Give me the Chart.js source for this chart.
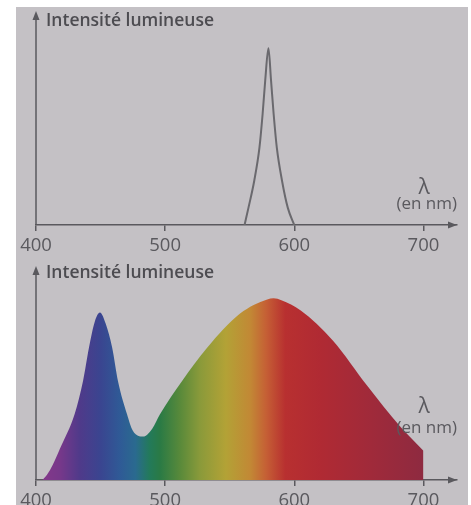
<!DOCTYPE html>
<html>
<head>
<meta charset="utf-8">
<script src="https://cdn.jsdelivr.net/npm/chart.js@4"></script>
<style>
  body { margin: 0; background: #fff; overflow: hidden; width: 471px; height: 505px; }
  #page { position: absolute; left: 16px; top: 7px; width: 452px; height: 498px; background: #c4c1c5; }
  canvas { position: absolute; left: 0; }
</style>
</head>
<body>
<div id="page"></div>
<canvas id="top_chart" width="471" height="264" style="top:0"></canvas>
<canvas id="bottom_chart" width="471" height="270" style="top:250px"></canvas>
<script>
// wavelength ticks (nm)
const xTicks = [400, 500, 600, 700];

// top: narrow emission line around 580 nm
const peakNm = [561.5, 564.5, 569, 573, 575.5, 577.5, 580, 582, 584, 586.5, 590.5, 595, 600];
const peakIntensity = [0, 8, 20.7, 36, 52, 67.6, 82.6, 67.6, 52, 36, 20.7, 8, 0];

// bottom: white LED-like spectrum
const spectrumNm = [405, 408.5, 413, 418.5, 430, 436.5, 441, 445.5, 449.5, 454, 459, 463.5, 470.5, 475, 483, 490, 496, 513, 532.5, 558, 579, 584, 590, 605, 630, 656.5, 682, 700];
const spectrumIntensity = [0, 2.4, 7.1, 14.6, 31, 46.5, 61.8, 74, 78.3, 73, 61.8, 46.2, 30.7, 23, 20.3, 24, 30.7, 46.2, 61.8, 77.8, 84.4, 84.9, 84, 79.2, 65.1, 44, 25, 13.7];

// colours of the fill along the wavelength axis
const colourNm = [405, 419, 434, 450, 465, 477, 488, 496, 512, 527, 547, 566, 578, 593, 620, 659, 700];
const colourHex = ['#84388a', '#76388a', '#4f3a8a', '#3a4590', '#2f5a96', '#2a6a8f', '#237a5a', '#2a7a45', '#5a8a3a', '#8a9a3a', '#b3a236', '#c28835', '#c56035', '#b83030', '#b02a33', '#a02a3a', '#8e2a40'];

const ink = '#5a595e';
const textInk = '#4d4c51';

const axesDeco = {
    id: 'axesDeco',
    afterDraw(chart, args, opts) {
        const ctx = chart.ctx;
        const a = chart.chartArea;
        ctx.save();
        ctx.strokeStyle = ink;
        ctx.fillStyle = ink;
        ctx.lineWidth = 1.5;
        // y axis with arrow
        ctx.beginPath();
        ctx.moveTo(a.left, a.bottom);
        ctx.lineTo(a.left, a.top + 6);
        ctx.stroke();
        ctx.beginPath();
        ctx.moveTo(a.left, a.top);
        ctx.lineTo(a.left - 3.5, a.top + 9);
        ctx.lineTo(a.left + 3.5, a.top + 9);
        ctx.closePath();
        ctx.fill();
        // arrow at end of x axis
        ctx.beginPath();
        ctx.moveTo(a.right, a.bottom);
        ctx.lineTo(a.right - 9, a.bottom - 3.5);
        ctx.lineTo(a.right - 9, a.bottom + 3.5);
        ctx.closePath();
        ctx.fill();
        // labels
        ctx.fillStyle = textInk;
        ctx.textBaseline = 'middle';
        ctx.textAlign = 'left';
        ctx.font = '600 17.5px "Open Sans"';
        ctx.fillText('Intensité lumineuse', a.left + 10, a.top + opts.titleDown);
        ctx.fillStyle = ink;
        ctx.textAlign = 'center';
        ctx.font = '21px "Open Sans"';
        ctx.fillText('λ', a.right - 33, a.bottom - opts.lambdaUp);
        ctx.textAlign = 'right';
        ctx.font = '17px "Open Sans"';
        ctx.fillText('(en nm)', a.right, a.bottom - opts.unitUp);
        ctx.restore();
    }
};

function make_options (padTop, padBottom, deco) {
    return {
        responsive: false,
        animation: false,
        layout: { padding: { left: 36, right: 14, top: padTop, bottom: padBottom } },
        plugins: {
            legend: { display: false },
            tooltip: { enabled: false },
            axesDeco: deco
        },
        scales: {
            x: {
                type: 'linear',
                min: 400,
                max: 726,
                afterBuildTicks: (scale) => { scale.ticks = xTicks.map(v => ({ value: v })); },
                ticks: { color: ink, font: { family: 'Open Sans', size: 18.5 }, padding: 4, maxRotation: 0 },
                grid: { display: true, drawOnChartArea: false, drawTicks: true, tickLength: 6, color: ink, lineWidth: 1.5 },
                border: { display: true, color: ink, width: 1.5 }
            },
            y: {
                display: false,
                min: 0,
                max: 100
            }
        }
    };
}

function spectrum_fill (context) {
    const chart = context.chart;
    if (!chart.chartArea) return 'transparent';
    const x = chart.scales.x;
    const x0 = x.getPixelForValue(400);
    const x1 = x.getPixelForValue(700);
    const g = chart.ctx.createLinearGradient(x0, 0, x1, 0);
    for (let i = 0; i < colourNm.length; i++) {
        g.addColorStop((colourNm[i] - 400) / 300, colourHex[i]);
    }
    return g;
}

const top_chart = new Chart(document.getElementById('top_chart'), {
    type: 'line',
    data: {
        datasets: [{
            data: peakNm.map((nm, i) => ({ x: nm, y: peakIntensity[i] })),
            borderColor: '#6a696e',
            borderWidth: 2,
            pointRadius: 0,
            cubicInterpolationMode: 'monotone',
            fill: false
        }]
    },
    options: make_options(11, 2.8, { titleDown: 10, lambdaUp: 37, unitUp: 21 }),
    plugins: [axesDeco]
});

const bottom_chart = new Chart(document.getElementById('bottom_chart'), {
    type: 'line',
    data: {
        datasets: [{
            data: spectrumNm.map((nm, i) => ({ x: nm, y: spectrumIntensity[i] })),
            borderColor: 'transparent',
            borderWidth: 0,
            backgroundColor: spectrum_fill,
            pointRadius: 0,
            cubicInterpolationMode: 'monotone',
            fill: 'origin'
        }]
    },
    options: make_options(16, 3.8, { titleDown: 7, lambdaUp: 73, unitUp: 52 }),
    plugins: [axesDeco]
});
</script>
</body>
</html>
